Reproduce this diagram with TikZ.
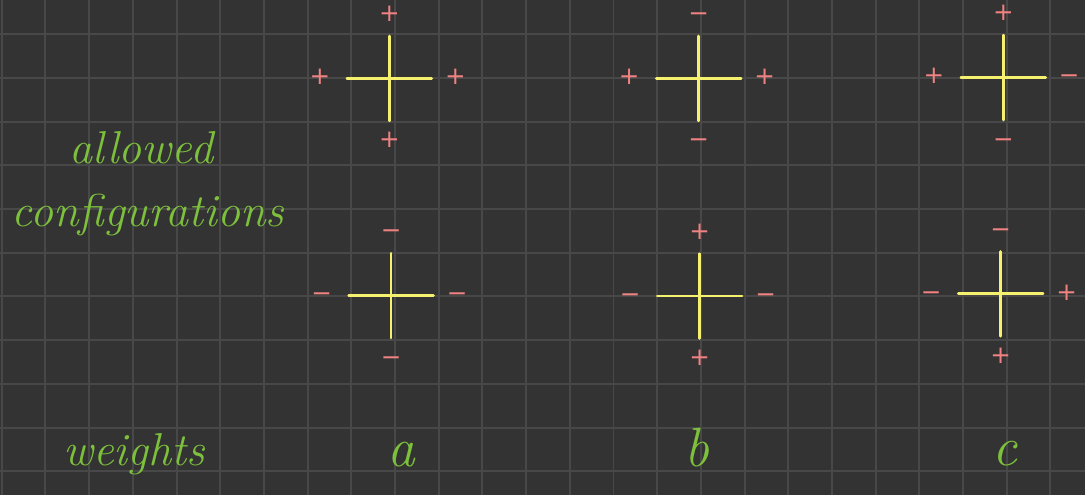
\documentclass[tikz,border=0pt]{standalone}
\usepackage{fontspec}
\usepackage{tikz}
\usetikzlibrary{positioning}
\newfontfamily\signfont{DejaVu Sans}
\definecolor{boardbg}{RGB}{51,51,51}
\definecolor{gridgray}{RGB}{72,72,72}
\definecolor{chalkgreen}{RGB}{125,192,60}
\definecolor{signpink}{RGB}{240,130,130}
\definecolor{crossyellow}{RGB}{245,240,110}
\tikzset{
  gridln/.style={line width=1.3pt, gridgray},
  crossln/.style={line width=1.8pt, crossyellow, line cap=round},
  signtxt/.style={signpink, inner sep=0pt, text height=0.8em, text depth=0pt,
    font=\fontsize{16}{16}\selectfont\signfont},
  handtxt/.style={chalkgreen, anchor=base, font=\fontsize{30}{34}\selectfont\itshape},
  weighttxt/.style={chalkgreen, anchor=base, font=\fontsize{36}{40}\selectfont\itshape},
}
% #1 name, #2 centre, #3 top, #4 right, #5 bottom, #6 left
\newcommand{\vertexcfg}[6]{%
  \begin{scope}[shift={#2}]
    \coordinate (#1) at (0,0);
    \draw[crossln] (0,0.97) -- (0,-0.97);
    \draw[crossln] (-0.97,0) -- (0.97,0);
    \node[signtxt] (#1-t) at (0,1.44) {#3};
    \node[signtxt] (#1-r) at (1.51,0) {#4};
    \node[signtxt] (#1-b) at (0,-1.45) {#5};
    \node[signtxt] (#1-l) at (-1.59,0) {#6};
  \end{scope}
}

\begin{document}
\begin{tikzpicture}
    % Board
    \fill[boardbg] (-0.039,-0.542) rectangle (24.79,10.785);
    \useasboundingbox (-0.039,-0.542) rectangle (24.79,10.785);
    \foreach \i in {0,...,24}
      \draw[gridln] (\i,-0.542) -- (\i,10.785);
    \foreach \j in {0,...,10}
      \draw[gridln] (-0.039,\j) -- (24.79,\j);
    % Labels
    \node[handtxt] (allowed) at (3.19,7.05) {allowed};
    \node[handtxt] (configs) at (3.35,5.6) {configurations};
    \node[handtxt] (weights) at (3.03,0.14) {weights};
    % Upper row
    \vertexcfg{ua}{(8.87,8.99)}{+}{+}{+}{+}
    \vertexcfg{ub}{(15.95,8.99)}{−}{+}{−}{+}
    \vertexcfg{uc}{(22.92,9.01)}{+}{−}{−}{+}
    % Lower row
    \vertexcfg{la}{(8.91,4.02)}{−}{−}{−}{−}
    \vertexcfg{lb}{(15.97,4.01)}{+}{−}{+}{−}
    \vertexcfg{lc}{(22.86,4.06)}{−}{+}{+}{−}
    % Weights
    \node[weighttxt] (wa) at (9.15,0.12) {a};
    \node[weighttxt] (wb) at (15.9,0.1) {b};
    \node[weighttxt] (wc) at (22.96,0.14) {c};
\end{tikzpicture}
\end{document}
